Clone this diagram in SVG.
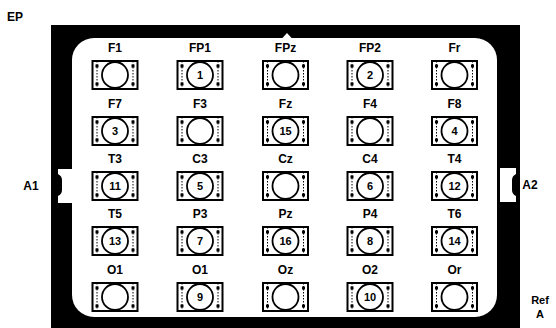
<svg xmlns="http://www.w3.org/2000/svg" width="556" height="328" viewBox="0 0 556 328">
<style>
.lbl{font-family:"Liberation Sans",Arial,sans-serif;font-weight:bold;font-size:12px;fill:#000;text-anchor:middle}
.sm{font-size:11px}
.num{font-family:"Liberation Sans",Arial,sans-serif;font-weight:bold;font-size:11px;fill:#000;text-anchor:middle}
.box{fill:#fff;stroke:#000;stroke-width:2}
.ring{fill:#fff;stroke:#000;stroke-width:1.8}
.dl{stroke:#000;stroke-width:1;stroke-dasharray:1.5 1.5;fill:none}
.dot{fill:#000}
</style>
<defs>
<g id="elec">
<rect class="box" x="-22.5" y="-14" width="45" height="28"/>
<line class="dl" x1="-18" y1="-14" x2="-18" y2="14"/>
<line class="dl" x1="18" y1="-14" x2="18" y2="14"/>
<rect class="dot" x="-19.5" y="-10.5" width="3" height="3"/>
<rect class="dot" x="16.5" y="-10.5" width="3" height="3"/>
<rect class="dot" x="-19.5" y="7.5" width="3" height="3"/>
<rect class="dot" x="16.5" y="7.5" width="3" height="3"/>
<circle class="ring" cx="0" cy="0" r="13"/>
</g>
</defs>
<rect width="556" height="328" fill="#fff"/>
<g id="frame">
<rect x="51" y="25" width="469" height="320" fill="#000"/>
<rect x="72" y="38" width="425" height="279" rx="22" ry="22" fill="#fff"/>
<polygon points="282,38.5 287,33 292,38.5" fill="#fff"/>
<path d="M58,169 H73 V203 H58 V196 Q62,194 62,190 V180 Q62,176 58,174 Z" fill="#fff"/>
<path d="M500,168 H516 V174 Q512,176 512,180 V190 Q512,194 516,196 V202 H500 Z" fill="#fff"/>
</g>
<text class="lbl" x="15" y="21">EP</text>
<text class="lbl" x="31" y="190">A1</text>
<text class="lbl" x="530" y="189">A2</text>
<text class="lbl sm" x="540" y="304">Ref</text>
<text class="lbl sm" x="540" y="318">A</text>
<g id="connectors"></g>
<g id="n-F1"><text class="lbl" x="115" y="52">F1</text><use href="#elec" x="115" y="75"/></g>
<g id="n-FP1"><text class="lbl" x="200" y="52">FP1</text><use href="#elec" x="200" y="75"/><text class="num" x="200" y="79">1</text></g>
<g id="n-FPz"><text class="lbl" x="285.5" y="52">FPz</text><use href="#elec" x="285.5" y="75"/></g>
<g id="n-FP2"><text class="lbl" x="370" y="52">FP2</text><use href="#elec" x="370" y="75"/><text class="num" x="370" y="79">2</text></g>
<g id="n-Fr"><text class="lbl" x="454.5" y="52">Fr</text><use href="#elec" x="454.5" y="75"/></g>
<g id="n-F7"><text class="lbl" x="115" y="108">F7</text><use href="#elec" x="115" y="131"/><text class="num" x="115" y="135">3</text></g>
<g id="n-F3"><text class="lbl" x="200" y="108">F3</text><use href="#elec" x="200" y="131"/></g>
<g id="n-Fz"><text class="lbl" x="285.5" y="108">Fz</text><use href="#elec" x="285.5" y="131"/><text class="num" x="285.5" y="135">15</text></g>
<g id="n-F4"><text class="lbl" x="370" y="108">F4</text><use href="#elec" x="370" y="131"/></g>
<g id="n-F8"><text class="lbl" x="454.5" y="108">F8</text><use href="#elec" x="454.5" y="131"/><text class="num" x="454.5" y="135">4</text></g>
<g id="n-T3"><text class="lbl" x="115" y="163">T3</text><use href="#elec" x="115" y="186"/><text class="num" x="115" y="190">11</text></g>
<g id="n-C3"><text class="lbl" x="200" y="163">C3</text><use href="#elec" x="200" y="186"/><text class="num" x="200" y="190">5</text></g>
<g id="n-Cz"><text class="lbl" x="285.5" y="163">Cz</text><use href="#elec" x="285.5" y="186"/></g>
<g id="n-C4"><text class="lbl" x="370" y="163">C4</text><use href="#elec" x="370" y="186"/><text class="num" x="370" y="190">6</text></g>
<g id="n-T4"><text class="lbl" x="454.5" y="163">T4</text><use href="#elec" x="454.5" y="186"/><text class="num" x="454.5" y="190">12</text></g>
<g id="n-T5"><text class="lbl" x="115" y="218">T5</text><use href="#elec" x="115" y="241"/><text class="num" x="115" y="245">13</text></g>
<g id="n-P3"><text class="lbl" x="200" y="218">P3</text><use href="#elec" x="200" y="241"/><text class="num" x="200" y="245">7</text></g>
<g id="n-Pz"><text class="lbl" x="285.5" y="218">Pz</text><use href="#elec" x="285.5" y="241"/><text class="num" x="285.5" y="245">16</text></g>
<g id="n-P4"><text class="lbl" x="370" y="218">P4</text><use href="#elec" x="370" y="241"/><text class="num" x="370" y="245">8</text></g>
<g id="n-T6"><text class="lbl" x="454.5" y="218">T6</text><use href="#elec" x="454.5" y="241"/><text class="num" x="454.5" y="245">14</text></g>
<g id="n-O1a"><text class="lbl" x="115" y="274">O1</text><use href="#elec" x="115" y="297"/></g>
<g id="n-O1b"><text class="lbl" x="200" y="274">O1</text><use href="#elec" x="200" y="297"/><text class="num" x="200" y="301">9</text></g>
<g id="n-Oz"><text class="lbl" x="285.5" y="274">Oz</text><use href="#elec" x="285.5" y="297"/></g>
<g id="n-O2"><text class="lbl" x="370" y="274">O2</text><use href="#elec" x="370" y="297"/><text class="num" x="370" y="301">10</text></g>
<g id="n-Or"><text class="lbl" x="454.5" y="274">Or</text><use href="#elec" x="454.5" y="297"/></g>
</svg>
